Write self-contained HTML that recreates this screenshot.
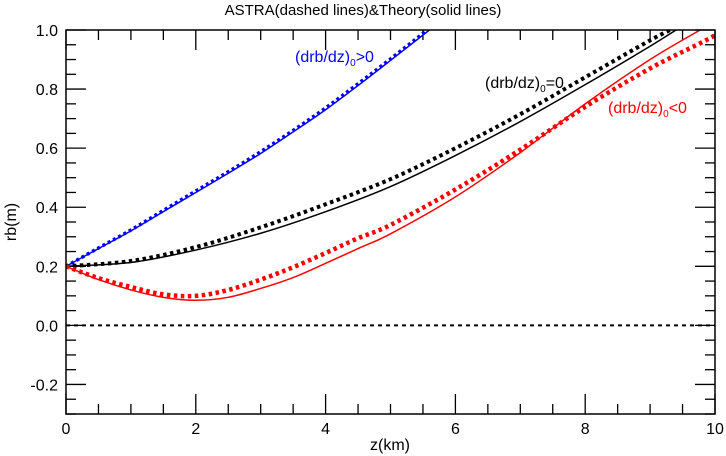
<!DOCTYPE html>
<html><head><meta charset="utf-8"><style>
html,body{margin:0;padding:0;background:#fff}
svg{display:block;font-family:"Liberation Sans",sans-serif}
</style></head><body>
<svg id="chart" width="726" height="456" viewBox="0 0 726 456">
<text x="363" y="15" text-anchor="middle" font-size="15">ASTRA(dashed lines)&amp;Theory(solid lines)</text>
<g id="ticks"></g>
<g id="series"></g>
<rect x="66" y="30" width="649" height="384" fill="none" stroke="#000" stroke-width="1.5"/>
<text x="16" y="222" font-size="16" text-anchor="middle" transform="rotate(-90 16 222)">rb(m)</text>
<text x="390" y="450" font-size="16" text-anchor="middle">z(km)</text>
<text x="295" y="62" font-size="16" fill="#0000ff">(drb/dz)<tspan font-size="10" dy="4">0</tspan><tspan dy="-4">&gt;0</tspan></text>
<text x="485" y="88" font-size="16" fill="#000">(drb/dz)<tspan font-size="10" dy="4">0</tspan><tspan dy="-4">=0</tspan></text>
<text x="608" y="113" font-size="16" fill="#ff0000">(drb/dz)<tspan font-size="10" dy="4">0</tspan><tspan dy="-4">&lt;0</tspan></text>
</svg>
<script>
const xTicks = [0,2,4,6,8,10];
const yTicks = [-0.2,0.0,0.2,0.4,0.6,0.8,1.0];
const yTickLabels = ["-0.2","0.0","0.2","0.4","0.6","0.8","1.0"];
const blueZ = [0,0.5,1,1.5,2,2.5,3,3.5,4,4.5,5,5.6];
const blueSolid = [0.2,0.26,0.32,0.385,0.45,0.515,0.582,0.655,0.73,0.812,0.897,1.0];
const blueDashed = [0.2,0.262,0.323,0.389,0.455,0.52,0.588,0.66,0.736,0.818,0.902,1.006];
const blackZ = [0,1,2,3,4,5,6,7,8,9,9.4];
const blackSolid = [0.2,0.213,0.255,0.312,0.385,0.47,0.575,0.69,0.815,0.945,1.0];
const blackDashed = [0.2,0.218,0.265,0.332,0.41,0.495,0.6,0.715,0.84,0.965,1.01];
const redZ = [0,0.5,1,1.5,2,2.5,3,3.5,4,4.5,5,6,7,8,9,9.77,10];
const redSolid = [0.2,0.155,0.12,0.095,0.085,0.095,0.125,0.162,0.21,0.26,0.31,0.435,0.585,0.75,0.9,1.0,1.03];
const redDashed = [0.2,0.16,0.13,0.105,0.1,0.12,0.155,0.197,0.245,0.295,0.34,0.46,0.595,0.74,0.87,0.955,0.982];
const NS='http://www.w3.org/2000/svg';
const X0=66,X1=715,Y0=414,Y1=30,ZMAX=10,RMIN=-0.3,RMAX=1.0;
function sx(z){return X0+(z/ZMAX)*(X1-X0);}
function sy(r){return Y0-(r-RMIN)/(RMAX-RMIN)*(Y0-Y1);}
function mk(tag,attrs,parent){const e=document.createElementNS(NS,tag);for(const k in attrs)e.setAttribute(k,attrs[k]);parent.appendChild(e);return e;}
const tg=document.getElementById('ticks');
for(let i=0;i<=20;i++){const z=i*0.5;const major=(i%4===0);const L=major?20:10;
 let t=mk('line',{x1:sx(z),x2:sx(z),y1:Y0,y2:Y0-L,stroke:'#000','stroke-width':1.3},tg);
 
 
 t=mk('line',{x1:sx(z),x2:sx(z),y1:Y1,y2:Y1+L,stroke:'#000','stroke-width':1.3},tg);
 
 }
for(let i=0;i<=26;i++){const r=-0.3+i*0.05;const major=(Math.abs(Math.round(r*100))%20===0);const L=major?20:10;
 let t=mk('line',{x1:X0,x2:X0+L,y1:sy(r),y2:sy(r),stroke:'#000','stroke-width':1.3},tg);
 
 
 t=mk('line',{x1:X1,x2:X1-L,y1:sy(r),y2:sy(r),stroke:'#000','stroke-width':1.3},tg);
 
 }
xTicks.forEach(v=>{const t=mk('text',{x:sx(v),y:434,'text-anchor':'middle','font-size':16},tg);t.textContent=String(v);
 
 });
yTicks.forEach((v,i)=>{const t=mk('text',{x:X0-8,y:sy(v)+6,'text-anchor':'end','font-size':16},tg);t.textContent=yTickLabels[i];
 
 });
const sg=document.getElementById('series');
const cp=mk('clipPath',{id:'clip'},sg);mk('rect',{x:X0,y:Y1,width:X1-X0,height:Y0-Y1},cp);
function smooth(zs,rs){const p=zs.map((z,i)=>[sx(z),sy(rs[i])]);let d='M'+p[0][0]+','+p[0][1];
 for(let i=0;i<p.length-1;i++){const p0=p[Math.max(0,i-1)],p1=p[i],p2=p[i+1],p3=p[Math.min(p.length-1,i+2)];
  d+=' C'+(p1[0]+(p2[0]-p0[0])/6)+','+(p1[1]+(p2[1]-p0[1])/6)+' '+(p2[0]-(p3[0]-p1[0])/6)+','+(p2[1]-(p3[1]-p1[1])/6)+' '+p2[0]+','+p2[1];}
 return d;}
function draw(zs,rs,color,w,dash,name){const a={d:smooth(zs,rs),fill:'none',stroke:color,'stroke-width':w,'clip-path':'url(#clip)'};if(dash)a['stroke-dasharray']=dash;
 const e=mk('path',a,sg);
 
 }
const zl=mk('line',{x1:X0,x2:X1,y1:sy(0),y2:sy(0),stroke:'#000','stroke-width':2,'stroke-dasharray':'4 4'},sg);


draw(blueZ,blueSolid,'#0000ff',1.5,null,'blue-theory-line');
draw(blueZ,blueDashed,'#0000ff',3.5,'3 3','blue-astra-line');
draw(blackZ,blackSolid,'#000',1.5,null,'black-theory-line');
draw(blackZ,blackDashed,'#000',4,'3.5 3.5','black-astra-line');
draw(redZ,redSolid,'#ff0000',1.5,null,'red-theory-line');
draw(redZ,redDashed,'#ff0000',4.5,'3.5 3.5','red-astra-line');
</script>
</body></html>
